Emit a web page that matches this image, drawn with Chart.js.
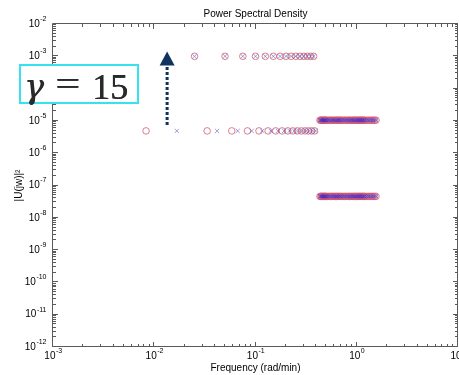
<!DOCTYPE html>
<html>
<head>
<meta charset="utf-8">
<script src="https://cdn.jsdelivr.net/npm/chart.js@4"></script>
<style>
html, body { margin: 0; padding: 0; background: #fff; overflow: hidden; }
#wrap { position: relative; width: 459px; height: 375px; overflow: hidden; }
#c { position: absolute; left: 0; top: 0; }
#gamma {
    position: absolute; left: 19px; top: 64px; width: 116px; height: 36px;
    border: 2.5px solid #35e3ef; background: #fff;
    font-family: "Liberation Serif", "DejaVu Serif", serif; color: #2a2a2a;
    filter: blur(0.4px);
}
#gamma span { position: absolute; line-height: 1; text-shadow: 0.6px 0 0 #2a2a2a; }
</style>
</head>
<body>
<div id="wrap">
    <canvas id="c" width="463" height="375" style="width:463px;height:375px"></canvas>
    <div id="gamma">
        <span style="left:3px;top:4px;font-size:33px;font-style:italic;font-family:'DejaVu Serif',serif">γ</span>
        <span style="left:34px;top:1px;font-size:34px;transform:scaleX(1.3);transform-origin:left">=</span>
        <span style="left:71px;top:3px;font-size:36px">15</span>
    </div>
</div>
<script>
// frequencies (rad/min)
const peakFreq = [0.025, 0.05, 0.075, 0.1, 0.125, 0.15, 0.175, 0.2, 0.225, 0.25, 0.275, 0.3, 0.325, 0.35, 0.375];
const circleFloorFreq = [0.0083, 0.0333, 0.0583, 0.0833, 0.1083, 0.1333, 0.1583, 0.1833, 0.2083, 0.2333, 0.2583, 0.2833, 0.3083, 0.3333, 0.3583, 0.3833];
const crossFloorFreq = [0.0167, 0.0417, 0.0667, 0.0917, 0.1167, 0.1417, 0.1667, 0.1917, 0.2167, 0.2417, 0.2667, 0.2917, 0.3167, 0.3417, 0.3667, 0.3917];
const bandFreq = [0.433, 0.442, 0.45, 0.458, 0.467, 0.475, 0.483, 0.492, 0.5, 0.517, 0.533, 0.55, 0.567, 0.583, 0.6, 0.617, 0.633, 0.65, 0.667, 0.683, 0.7, 0.725, 0.75, 0.775, 0.8, 0.825, 0.85, 0.875, 0.9, 0.925, 0.95, 0.975, 1.0, 1.025, 1.05, 1.075, 1.1, 1.125, 1.15, 1.175, 1.2, 1.25, 1.3, 1.35, 1.4, 1.45, 1.5, 1.55];

// power levels |U(jw)|^2
const peakPower = 1e-3;
const floorPower = 4.9e-6;
const bandHighPower = 1.05e-5;
const bandLowPower = 4.6e-8;

// arrow annotation
const arrowFreq = 0.0134;
const arrowFrom = 7.5e-6;
const arrowTo = 1.4e-3;

const xDecades = [-3, -2, -1, 0, 1];
const yDecades = [-12, -11, -10, -9, -8, -7, -6, -5, -4, -3, -2];

const pts = (freqs, p) => freqs.map(f => ({ x: f, y: p }));

const circles = [].concat(
    pts(peakFreq, peakPower), pts(circleFloorFreq, floorPower),
    pts(bandFreq, bandHighPower), pts(bandFreq, bandLowPower));
const crosses = [].concat(pts(peakFreq, peakPower), pts(crossFloorFreq, floorPower));
const bandCrosses = [].concat(pts(bandFreq, bandHighPower), pts(bandFreq, bandLowPower));

const axisColor = '#5a5a5a';
const labelFont = '10px "Liberation Sans", Arial, sans-serif';
const expFont = '7px "Liberation Sans", Arial, sans-serif';

// matlab style box, inward ticks and 10^n labels
const matlabAxes = {
    id: 'matlabAxes',
    afterDraw(chart) {
        const { ctx, chartArea: a } = chart;
        const xs = chart.scales.x, ys = chart.scales.y;
        ctx.save();
        ctx.strokeStyle = axisColor;
        ctx.lineWidth = 1;
        ctx.beginPath();
        ctx.rect(a.left - 0.5, a.top - 0.5, a.right - a.left, a.bottom - a.top);
        ctx.stroke();

        ctx.beginPath();
        xDecades.forEach(e => {
            for (let m = 1; m < 10; m++) {
                if (e === 1 && m > 1) break;
                const px = Math.round(xs.getPixelForValue(m * Math.pow(10, e))) - 0.5;
                const len = m === 1 ? 5 : 3;
                ctx.moveTo(px, a.bottom); ctx.lineTo(px, a.bottom - len);
                ctx.moveTo(px, a.top); ctx.lineTo(px, a.top + len);
            }
        });
        yDecades.forEach(e => {
            for (let m = 1; m < 10; m++) {
                if (e === -2 && m > 1) break;
                const py = Math.round(ys.getPixelForValue(m * Math.pow(10, e))) - 0.5;
                const len = m === 1 ? 5 : 3;
                ctx.moveTo(a.left, py); ctx.lineTo(a.left + len, py);
                ctx.moveTo(a.right, py); ctx.lineTo(a.right - len, py);
            }
        });
        ctx.stroke();

        ctx.fillStyle = '#000';
        ctx.textBaseline = 'middle';
        const drawPow = (e, cx, cy, alignRight) => {
            ctx.font = labelFont;
            const w10 = ctx.measureText('10').width;
            ctx.font = expFont;
            const we = ctx.measureText(String(e)).width;
            const x0 = alignRight ? cx - w10 - we : cx - (w10 + we) / 2;
            ctx.font = labelFont;
            ctx.textAlign = 'left';
            ctx.fillText('10', x0, cy);
            ctx.font = expFont;
            ctx.fillText(String(e), x0 + w10 + 0.5, cy - 5);
        };
        xDecades.forEach(e => drawPow(e, xs.getPixelForValue(Math.pow(10, e)), a.bottom + 9, false));
        yDecades.forEach(e => drawPow(e, a.left - 7, ys.getPixelForValue(Math.pow(10, e)), true));
        ctx.restore();
    }
};

const arrowPlugin = {
    id: 'arrow',
    afterDatasetsDraw(chart) {
        const { ctx } = chart;
        const x = chart.scales.x.getPixelForValue(arrowFreq);
        const y0 = chart.scales.y.getPixelForValue(arrowFrom);
        const y1 = chart.scales.y.getPixelForValue(arrowTo);
        const head = 14;
        ctx.save();
        ctx.strokeStyle = '#10345f';
        ctx.fillStyle = '#10345f';
        ctx.lineWidth = 3;
        ctx.setLineDash([3, 2]);
        ctx.beginPath();
        ctx.moveTo(x, y0);
        ctx.lineTo(x, y1 + head);
        ctx.stroke();
        ctx.setLineDash([]);
        ctx.beginPath();
        ctx.moveTo(x, y1);
        ctx.lineTo(x - 7.5, y1 + head);
        ctx.lineTo(x + 7.5, y1 + head);
        ctx.closePath();
        ctx.fill();
        ctx.restore();
    }
};

new Chart(document.getElementById('c'), {
    type: 'scatter',
    data: {
        datasets: [{
            label: 'circles',
            data: circles,
            order: 2,
            pointStyle: 'circle',
            pointRadius: 3.3,
            borderWidth: 1,
            borderColor: 'rgba(205, 85, 105, 0.75)',
            backgroundColor: 'rgba(0,0,0,0)'
        }, {
            label: 'crosses',
            data: crosses,
            order: 1,
            pointStyle: 'crossRot',
            pointRadius: 3,
            borderWidth: 1,
            borderColor: 'rgba(80, 80, 190, 0.55)',
            backgroundColor: 'rgba(0,0,0,0)'
        }, {
            label: 'band crosses',
            data: bandCrosses,
            order: 0,
            pointStyle: 'crossRot',
            pointRadius: 2.6,
            borderWidth: 1,
            borderColor: 'rgba(50, 30, 215, 0.5)',
            backgroundColor: 'rgba(0,0,0,0)'
        }]
    },
    options: {
        responsive: false,
        animation: false,
        devicePixelRatio: 1,
        events: [],
        layout: { padding: { left: 0, right: 1.5, top: 0, bottom: 0 } },
        plugins: {
            legend: { display: false },
            tooltip: { enabled: false },
            title: {
                display: true,
                fullSize: false,
                text: 'Power Spectral Density',
                color: '#000',
                font: { family: '"Liberation Sans", Arial, sans-serif', size: 10, weight: 'normal' },
                padding: { top: 8, bottom: 4 }
            }
        },
        scales: {
            x: {
                type: 'logarithmic',
                min: 1e-3,
                max: 10,
                grid: { display: false },
                border: { display: false },
                ticks: { display: false },
                title: {
                    display: true,
                    text: 'Frequency (rad/min)',
                    color: '#000',
                    font: { family: '"Liberation Sans", Arial, sans-serif', size: 10 },
                    padding: { top: 0, bottom: 1 }
                },
                afterFit: s => { s.height = 28; }
            },
            y: {
                type: 'logarithmic',
                min: 1e-12,
                max: 1e-2,
                grid: { display: false },
                border: { display: false },
                ticks: { display: false },
                title: {
                    display: true,
                    text: '|U(jw)|²',
                    color: '#000',
                    font: { family: '"Liberation Sans", Arial, sans-serif', size: 10 },
                    padding: { top: 13, bottom: 0 }
                },
                afterFit: s => { s.width = 53; }
            }
        }
    },
    plugins: [matlabAxes, arrowPlugin]
});
</script>
</body>
</html>
